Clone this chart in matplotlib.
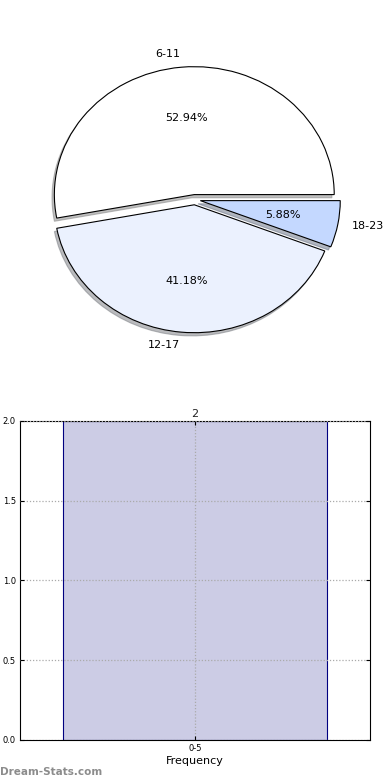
import matplotlib
matplotlib.use("Agg")
import matplotlib.pyplot as plt

# pie data
age_groups = ["6-11", "12-17", "18-23"]
age_counts = [9, 7, 1]
pie_colors = ["#FFFFFF", "#EBF1FE", "#C4D8FF"]

# histogram data
freq_bins = ["0-5"]
freq_counts = [2]

fig = plt.figure(figsize=(3.9, 7.8), dpi=100)

# --- pie ---
ax1 = fig.add_axes([0.051, 0.539, 0.897, 0.410])
wedges, texts, autotexts = ax1.pie(
    age_counts, labels=age_groups, colors=pie_colors, autopct="%.2f%%",
    explode=[0.04, 0.04, 0.04], startangle=0,
    shadow={"ox": -0.012, "oy": -0.018, "shade": 0.5},
    wedgeprops={"edgecolor": "black", "linewidth": 0.8},
    textprops={"fontsize": 8})
ax1.set_aspect("auto")

# --- bar ---
ax2 = fig.add_axes([0.051, 0.0513, 0.897, 0.409])
x = list(range(len(freq_bins)))
ax2.bar(x, freq_counts, width=0.755, color="#CCCCE5",
        edgecolor="#000080", linewidth=0.8, zorder=2)
for xi, v in zip(x, freq_counts):
    ax2.text(xi, v + 0.015, str(v), ha="center", va="bottom", fontsize=8, color="#222222")
ax2.set_xlim(-0.5, 0.5)
ax2.set_ylim(0, 2)
ax2.set_xticks(x)
ax2.set_xticklabels(freq_bins)
ax2.set_yticks([0.0, 0.5, 1.0, 1.5, 2.0])
ax2.set_yticklabels(["0.0", "0.5", "1.0", "1.5", "2.0"])
ax2.tick_params(labelsize=6, direction="in", right=True, top=True, length=3, pad=3)
ax2.grid(True, linestyle=(0, (1, 1.5)), color="#aaaaaa", linewidth=0.9, zorder=3)
ax2.set_axisbelow(False)
ax2.set_xlabel("Frequency", fontsize=8, labelpad=2)

fig.text(0.0, 0.004, "Dream-Stats.com", fontsize=7.5, color="#8c8c8c",
         fontweight="bold", ha="left", va="bottom")

fig.savefig("out.png", dpi=100)
